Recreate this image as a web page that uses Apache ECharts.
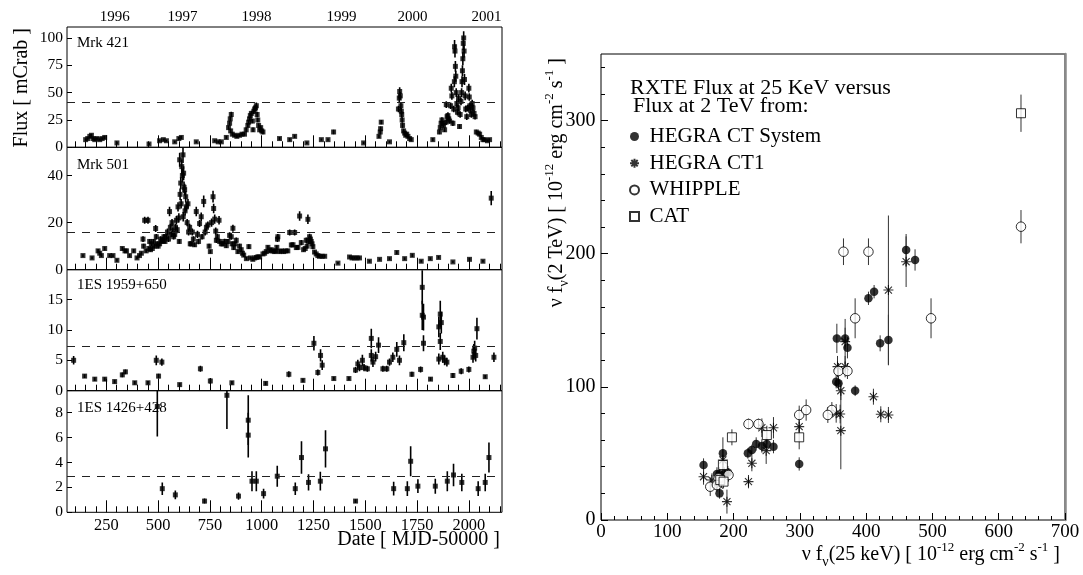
<!DOCTYPE html>
<html><head><meta charset="utf-8">
<script src="https://cdn.jsdelivr.net/npm/echarts@6/dist/echarts.min.js"></script>
<style>html,body{margin:0;padding:0;background:#fff}#c{width:1083px;height:575px}</style>
</head><body><div id="c"></div>
<script>
// ---------------- DATA ----------------
// Light curves: [MJD-50000, flux (mCrab), error]
const mrk421 = [
[150,7,1],[160,8,1],[170,10,1.5],[178,11,1.5],[186,8,1],[194,7,1],[205,8,1],[218,7,1],[230,8,1],[242,9,1.5],
[301,4,1],[456,3,1],[507,6,1],[525,7,1],[540,6,1],[580,5,1],[600,8,1.5],[612,9,1.5],[684,5,1],[773,6,1],[790,5,1],[805,5,1],[829,9,1.5],
[840,18,2],[845,22,2],[848,26,2],[853,30,2.5],[850,15,2],[858,12,1.5],[869,11,1.5],[880,10,1.5],[893,11,1.5],[905,12,1.5],[917,12,1.5],[925,16,2],[933,20,2],[937,23,2],[941,26,2],[945,29,2.5],[950,31,2.5],[955,24,2],[958,16,2],[962,33,2.5],[966,35,2.5],[970,36,2.5],[974,38,3],[978,30,2.5],[981,25,2],[985,20,2],[990,16,2],[995,18,2],[1000,15,2],[1006,14,2],
[1086,8,1.5],[1135,7,1.5],[1159,10,1.5],[1218,4,1],[1288,7,1],[1320,7,1],[1347,14,2],[1492,4,1],
[1566,10,1.5],[1572,14,2],[1574,17,2],[1577,23,2],[1617,5,1],
[1660,35,3],[1664,45,3.5],[1666,51,4],[1669,47,3.5],[1672,38,3],[1674,33,3],[1676,30,3],[1678,25,2.5],[1680,20,2.5],[1685,15,2],[1690,13,2],[1695,11,1.5],[1700,12,2],[1706,10,1.5],[1714,8,1.5],[1722,7,1.5],
[1826,7,1.5],[1858,14,2],[1862,18,2],[1866,22,2],[1870,25,2.5],[1874,22,2],[1878,20,2],[1883,16,2],[1890,23,2.5],[1891,39,3],[1895,28,3],[1899,29,3],[1903,26,2.5],[1907,24,2.5],[1912,38,3],[1915,54,4],[1918,47,3.5],[1923,22,2.5],[1927,35,3],[1930,60,5],[1931,92,6],[1933,88,6],[1935,74,5],[1937,65,5],[1939,50,4],[1942,40,3.5],[1945,32,3],[1948,36,3],[1950,45,3.5],[1955,19,2],[1958,30,3],[1962,42,3.5],[1965,50,4],[1967,60,5],[1969,70,5],[1971,81,6],[1973,95,6],[1975,100,6],[1977,88,6],[1979,62,5],[1982,47,4],[1985,35,3],[1990,28,3],[1995,36,3],[2000,54,4],[2002,46,3.5],[2005,38,3],[2008,34,3],[2012,30,3],[2016,40,3.5],[2020,36,3],[2025,31,3],[2030,28,2.5],
[2036,14,2],[2045,13,2],[2052,12,2],[2060,9,1.5],[2068,7,1.5],[2076,7,1.5],[2090,6,1],[2100,7,1]
];
const mrk501 = [
[137,6,0.6],[181,5,0.6],[210,8,0.8],[218,7,0.7],[226,6,0.6],[242,9,0.8],[266,6,0.6],[282,6,0.6],[301,4,0.6],[327,9,0.8],[340,8,0.8],[347,8,0.7],[362,6,0.7],[382,8,0.8],[398,5,0.6],[410,6,0.7],[419,7,0.7],
[427,13,1.2],[430,10,1],[435,21,1.5],[442,8,0.8],[451,21,1.5],[455,9,0.9],[459,12,1],[463,8.5,0.9],[467,11,1],[472,9,0.9],[478,12,1],[483,10,1],[488,17.5,1.5],[491,14,1.2],[495,11,1],[500,10,1],[507,11,1],[512,13,1.2],[518,12,1],[523,12.5,1.2],[528,14,1.2],[533,12,1],[540,14,1.2],[545,16,1.5],[550,13,1.2],[555,24.7,2],[559,18,1.5],[563,15,1.2],[567,20,1.5],[571,16.4,1.5],[575,14,1.2],[580,15,1.3],[584,18,1.5],[588,21,1.8],[592,17,1.5],[596,26.7,2],[600,22,2],[602,12,1],[604,46.7,3],[606,32,2.5],[609,36.8,2.5],[611,28,2],[614,43.8,3],[617,40,3],[620,48.8,3.5],[621,22.5,2],[623,41,3],[625,35,2.5],[628,34,2.5],[630,25,2],[633,31,2.5],[636,26.7,2],[640,20,1.5],[644,28,2],[647,16,1.5],[652,18,1.5],[655,11,1],[660,11,1],[665,16,1.5],[670,13,1.2],[676,10.6,1],[684,24.7,2],[690,15,1.5],[695,12,1.2],[700,19.6,1.5],[708,22.5,1.8],[712,14,1.2],[720,29,2.5],[727,16,1.5],[733,18,1.5],[740,19,1.5],[746,10,1],[752,7.7,0.8],[758,20,1.8],[765,31,2.5],[768,26,2],[773,21.5,2],[778,16.4,1.5],[781,12.5,1.2],[786,14,1.2],[794,21,1.8],[797,12,1.1],[805,11,1],[813,11,1],[821,12,1.1],[829,10.2,1],[837,12,1],[845,14.6,1.3],[853,14,1.3],[857,11,1],[861,17.6,1.5],[865,9.4,1],[871,11,1],[877,12.5,1.2],[885,7.7,0.9],[893,10,1],[901,8.5,0.9],[907,7,0.8],[913,6.2,0.8],[926,4.7,0.7],[938,9.8,1],[945,5,0.6],[957,4.4,0.6],[966,5,0.6],[974,5.2,0.6],[982,5.5,0.6],[990,5.4,0.6],[1006,6.7,0.7],[1014,7,0.7],[1022,7.7,0.8],[1030,9.5,0.9],[1038,8,0.8],[1046,8.5,0.8],[1054,8,0.8],[1062,7.7,0.8],[1068,8,0.8],[1073,9.5,0.9],[1076,13,1.2],[1078,14,1.2],[1086,7.7,0.8],[1096,8,0.8],[1106,7.7,0.8],[1116,8,0.8],[1126,8,0.8],[1135,15.8,1.3],[1143,10.5,1],[1151,10.6,1],[1159,15.8,1.3],[1167,9.4,1],[1175,9.5,1],[1183,22.8,2],[1191,11.5,1.1],[1202,8.5,0.9],[1210,9,0.9],[1215,12.5,1.2],[1219,10,1],[1223,21.4,2],[1227,12,1.1],[1231,14,1.3],[1235,13,1.2],[1239,12,1.1],[1243,11,1],[1247,9.8,1],[1255,7.5,0.8],[1263,6.7,0.7],[1271,6,0.7],[1279,5.7,0.6],[1292,5.7,0.6],[1304,5.7,0.6],
[1368,2.8,0.5],[1424,5.4,0.6],[1436,5,0.6],[1448,5,0.6],[1460,5,0.6],[1472,5,0.6],[1520,3.6,0.5],[1569,4.4,0.5],[1617,4.7,0.6],[1652,7.3,0.7],[1690,4.7,0.6],[1727,6.1,0.7],[1770,3.6,0.5],[1814,4.7,0.6],[1854,5.2,0.6],[1923,3.3,0.5],[2003,4.4,0.6],[2068,3.6,0.5],[2108,30.4,3]
];
const es1959 = [
[92,5.0,0.7],[145,2.4,0.3],[194,1.9,0.3],[242,1.9,0.3],[290,1.5,0.3],[327,2.6,0.4],[342,3.1,0.4],[387,1.3,0.3],[451,1.3,0.3],[491,5.0,0.8],[502,2.4,0.4],[518,4.7,0.6],[604,1.0,0.3],[704,3.6,0.5],[752,1.6,0.5],[856,1.3,0.3],[1019,1.2,0.3],[1131,2.7,0.5],[1199,1.7,0.3],[1252,7.8,1.2],[1271,3.0,0.5],[1284,5.8,1],[1292,4.2,0.8],[1348,2.0,0.3],[1421,2.0,0.3],[1453,3.4,0.5],[1464,4.4,0.7],[1472,3.8,0.6],[1486,5.0,0.9],[1494,3.8,0.6],[1510,3.6,0.5],[1529,8.6,1.6],[1529,5.8,1],[1537,4.7,0.8],[1550,5.6,0.8],[1564,7.5,1.3],[1585,3.6,0.5],[1604,3.6,0.5],[1617,4.7,0.6],[1633,5.5,0.8],[1652,6.8,1.2],[1665,5.0,0.8],[1686,7.9,1.4],[1725,2.7,0.4],[1767,3.5,0.5],[1775,17.0,2.8],[1775,12.4,2.4],[1781,12.1,2.2],[1781,7.8,1.3],[1815,1.9,0.3],[1855,10.5,1.7],[1862,12.6,2.2],[1862,8.1,1.4],[1855,5.2,0.9],[1867,11.2,1.8],[1874,5.5,0.9],[1883,5.0,0.8],[1894,4.7,0.7],[1923,2.5,0.4],[1963,3.2,0.5],[2000,3.5,0.5],[2020,5.5,0.9],[2024,6.5,1.2],[2028,7.0,1.2],[2033,5.8,1],[2039,10.2,1.8],[2079,2.3,0.3],[2121,5.5,0.8]
];
const es1426 = [
[496,8.5,2.4],[520,1.9,0.5],[583,1.4,0.35],[724,0.9,0.2],[832,9.4,2.7],[888,1.3,0.3],[935,7.4,2.0],[935,6.2,1.8],[953,2.5,0.8],[974,2.5,0.8],[1009,1.5,0.4],[1075,2.9,0.85],[1162,1.9,0.5],[1192,4.4,1.3],[1226,2.4,0.65],[1283,2.5,0.75],[1308,5.1,1.5],[1453,0.9,0.15],[1637,1.9,0.55],[1703,1.9,0.6],[1719,4.1,1.2],[1754,2.1,0.55],[1838,2.1,0.6],[1896,2.5,0.8],[1926,3.0,0.9],[1966,2.4,0.7],[2045,1.9,0.6],[2079,2.4,0.7],[2097,4.4,1.2]
];
const sourceNames = ['Mrk 421','Mrk 501','1ES 1959+650','1ES 1426+428'];
const dashLevels = [41, 15.7, 7.3, 2.9];
const panelMax = [110, 52, 19.9, 9.77];
const panelTicks = [[0,25,50,75,100],[0,20,40],[0,5,10,15],[0,2,4,6,8]];
const dateMajorTicks = [250,500,750,1000,1250,1500,1750,2000];
const dateMinorTicks = [100,150,200,300,350,400,450,550,600,650,700,800,850,900,950,1050,1100,1150,1200,1300,1350,1400,1450,1550,1600,1650,1700,1800,1850,1900,1950,2050,2100,2150];
const yearPos = [290,618,975,1385,1728,2085];
const yearLabels = ['1996','1997','1998','1999','2000','2001'];

// Correlation: [nu f_nu(25 keV), nu f_nu(2 TeV), error]
const hegraSys = [
[460.3,202.8,12],[473.8,195.3,8],[403.5,166.5,5],[412,171.5,5],[355.8,136.4,11],[368.3,136.4,8],[371.8,129.4,8],[421.1,132.7,6],[433.6,135.2,19],[354.8,103.9,5],[358.3,102.7,5],[383.4,97.1,4],[299,42.1,5],[221.6,50.1,4],[227.6,52.6,4],[234.1,57.1,5],[242.7,55.6,5],[250.2,57.1,5],[260.2,55.1,5],[154.7,41.3,5],[183.9,50.1,12],[174.9,34.6,5],[178.8,34.6,5],[185.9,34.6,5],[191.4,35.6,5],[178.8,20.0,4]
];
const hegraCT1 = [
[460.3,194,19],[433.6,172.7,56],[368.3,134,17],[356.8,115.2,8],[368.3,115.2,8],[361.8,97.1,7],[411,92.6,6],[422.1,79.4,6],[433.6,78.9,6],[354.8,80.1,7],[360.8,79.6,7],[361.8,67.1,29],[299,70.1,6],[242.7,69.3,7],[260.2,69.3,8],[249.2,52.1,10],[227.6,42.6,6],[222.5,28.8,5],[154.7,32.5,6],[183.9,45.1,8],[178.8,26.3,5],[190,13.8,9],[167.3,30,5]
];
const whipple = [
[633.6,220.3,12.5],[365.8,201.5,10],[403.5,201.5,10],[383.4,151.5,15],[497.9,151.5,15],[358.3,111.9,6],[371.8,111.9,6],[348.3,82.6,6],[342.2,78.9,6],[299,78.9,7],[309.5,82.6,8],[222.5,72.1,4],[237.6,72.1,4],[164.8,25,7],[192.4,33.8,5],[177.3,31.3,5],[174.9,26.3,5]
];
const cat = [
[633.6,305.5,14],[299,62.1,9],[250.2,63.8,7],[197.5,62.1,6],[183.9,41.3,6],[179.9,30,5],[184.9,28.8,5]
];
const corrXMinor = [20,40,60,80,120,140,160,180,220,240,260,280,320,340,360,380,420,440,460,480,520,540,560,580,620,640,660,680];
const corrYMinor = [20,40,60,80,120,140,160,180,220,240,260,280,320,340];
const corrYTicks = [0,100,200,300];

// ---------------- CHART ----------------
const FONT = "'Liberation Serif','Times New Roman',serif";
const chart = echarts.init(document.getElementById('c'), null, {renderer:'canvas'});
const plain = v => String(v);

const panelRects = [
  {top:27, height:120.3},
  {top:147.3, height:122.4},
  {top:269.7, height:121},
  {top:390.7, height:121.6}
];
const L = {left:67, width:435};

const grid = [];
panelRects.forEach(r => grid.push({left:L.left, width:L.width, top:r.top, height:r.height, show:true, borderColor:'#000', borderWidth:1}));
panelRects.forEach(r => grid.push({left:L.left, width:L.width, top:r.top, height:r.height, show:false}));
grid.push({left:601, width:464, top:54, height:466, show:true, borderColor:'#000', borderWidth:1});
grid.push({left:601, width:464, top:54, height:466, show:false});

const xAxis = [];
for (let i=0;i<4;i++){
  xAxis.push({type:'value', gridIndex:i, min:60, max:2160, position:'bottom',
    axisLine:{show:false}, splitLine:{show:false},
    axisTick:{show:true, inside:true, length:12, customValues:dateMajorTicks, lineStyle:{color:'#000', width:1}},
    axisLabel:{show:i===3, customValues:dateMajorTicks, formatter:plain, margin:5, color:'#000', fontFamily:FONT, fontSize:16.4}
  });
}
xAxis.push({type:'value', gridIndex:0, min:60, max:2160, position:'top',
  axisLine:{show:false}, axisTick:{show:false}, splitLine:{show:false},
  axisLabel:{show:true, customValues:yearPos, margin:2, color:'#000', fontFamily:FONT, fontSize:15,
    formatter: v => yearLabels[yearPos.indexOf(v)]}
});
for (let i=0;i<4;i++){
  xAxis.push({type:'value', gridIndex:4+i, min:60, max:2160, position:'bottom',
    axisLine:{show:false}, splitLine:{show:false}, axisLabel:{show:false},
    axisTick:{show:true, inside:true, length:6, customValues:dateMinorTicks, lineStyle:{color:'#000', width:1}}
  });
}
xAxis.push({type:'value', gridIndex:8, min:0, max:700, interval:100, position:'bottom',
  axisLine:{show:false}, splitLine:{show:false},
  axisTick:{show:true, inside:true, length:7, lineStyle:{color:'#000'}},
  axisLabel:{margin:3, formatter:plain, color:'#000', fontFamily:FONT, fontSize:19}
});
xAxis.push({type:'value', gridIndex:9, min:0, max:700, position:'bottom',
  axisLine:{show:false}, splitLine:{show:false}, axisLabel:{show:false},
  axisTick:{show:true, inside:true, length:4, customValues:corrXMinor, lineStyle:{color:'#000'}}
});

const yAxis = [];
for (let i=0;i<4;i++){
  yAxis.push({type:'value', gridIndex:i, min:0, max:panelMax[i],
    axisLine:{show:false}, splitLine:{show:false},
    axisTick:{show:true, inside:true, length:5, customValues:panelTicks[i], lineStyle:{color:'#000'}},
    axisLabel:{customValues:panelTicks[i], formatter:plain, margin:4, color:'#000', fontFamily:FONT, fontSize:15.5}
  });
}
for (let i=0;i<4;i++){
  yAxis.push({type:'value', gridIndex:4+i, min:0, max:panelMax[i], show:false});
}
yAxis.push({type:'value', gridIndex:8, min:0, max:350, position:'left',
  axisLine:{show:false}, splitLine:{show:false},
  axisTick:{show:true, inside:true, length:7, customValues:corrYTicks, lineStyle:{color:'#000'}},
  axisLabel:{customValues:corrYTicks, formatter:plain, margin:5.5, color:'#000', fontFamily:FONT, fontSize:20}
});
yAxis.push({type:'value', gridIndex:9, min:0, max:350, position:'left',
  axisLine:{show:false}, splitLine:{show:false}, axisLabel:{show:false},
  axisTick:{show:true, inside:true, length:4, customValues:corrYMinor, lineStyle:{color:'#000'}}
});
yAxis.push({type:'value', gridIndex:9, min:0, max:350, position:'right',
  axisLine:{show:true, lineStyle:{color:'#8a8a8a', width:2.5}}, splitLine:{show:false},
  axisTick:{show:false}, axisLabel:{show:false}
});

function errRender(ymax, lw, color){
  return function(params, api){
    const x = api.value(0), y = api.value(1), e = api.value(2);
    const lo = Math.max(0, y - e), hi = Math.min(ymax, y + e);
    const a = api.coord([x, lo]), b = api.coord([x, hi]);
    return {type:'line', shape:{x1:a[0], y1:a[1], x2:b[0], y2:b[1]}, style:{stroke:color, lineWidth:lw}, silent:true};
  };
}

const series = [];
const lcData = [mrk421, mrk501, es1959, es1426];
lcData.forEach((d, i) => {
  series.push({type:'custom', name:'err'+i, xAxisIndex:i, yAxisIndex:i, clip:true,
    renderItem: errRender(panelMax[i], 1.6, '#000'), data:d, z:2, silent:true});
  series.push({type:'scatter', name:sourceNames[i], xAxisIndex:i, yAxisIndex:i, clip:true,
    symbol:'rect', symbolSize:5, itemStyle:{color:'#000'}, z:3, silent:true,
    data: d.map(p => [p[0], p[1]]),
    markLine:{silent:true, symbol:'none', label:{show:false}, animation:false,
      lineStyle:{type:[8,7], color:'#222', width:1}, data:[{yAxis:dashLevels[i]}]}
  });
});

const corr = [
  {name:'HEGRA CT System', data:hegraSys, symbol:'circle', size:8.5, style:{color:'#000'}},
  {name:'HEGRA CT1', data:hegraCT1, symbol:'path://M0,-10L0,10M-10,0L10,0M-7.07,-7.07L7.07,7.07M-7.07,7.07L7.07,-7.07', size:10, style:{color:'rgba(0,0,0,0)', borderColor:'#000', borderWidth:1.1}},
  {name:'WHIPPLE', data:whipple, symbol:'circle', size:9.5, style:{color:'#fff', borderColor:'#000', borderWidth:1}},
  {name:'CAT', data:cat, symbol:'path://M0,0L10,0L10,10L0,10Z', size:9, style:{color:'#fff', borderColor:'#000', borderWidth:1}}
];
corr.forEach((c, i) => {
  series.push({type:'custom', name:'cerr'+i, xAxisIndex:9, yAxisIndex:8, clip:true,
    renderItem: errRender(350, 1, '#333'), data:c.data, z:2, silent:true});
});
corr.forEach((c, i) => {
  series.push({type:'scatter', name:c.name, xAxisIndex:9, yAxisIndex:8, clip:true,
    symbol:c.symbol, symbolSize:c.size, symbolKeepAspect:true, itemStyle:c.style, z:3, silent:true,
    data: c.data.map(p => [p[0], p[1]])});
});

const rich = {
  a:{fontSize:20, fontFamily:FONT, color:'#000', lineHeight:28},
  s:{fontSize:14, fontFamily:FONT, color:'#000', lineHeight:14, verticalAlign:'bottom'},
  p:{fontSize:13, fontFamily:FONT, color:'#000', lineHeight:14, verticalAlign:'top'}
};

const graphic = [
  {type:'text', x:21.5, y:28, rotation:Math.PI/2, silent:true,
    style:{text:'Flux [ mCrab ]', font:'20px '+FONT, fill:'#000', align:'right', verticalAlign:'middle'}},
  {type:'text', x:500, y:540, silent:true,
    style:{text:'Date [ MJD-50000 ]', font:'20px '+FONT, fill:'#000', align:'right', verticalAlign:'middle'}},
  {type:'text', x:77, y:43, silent:true, style:{text:sourceNames[0], font:'15px '+FONT, fill:'#000', verticalAlign:'middle'}},
  {type:'text', x:77, y:165, silent:true, style:{text:sourceNames[1], font:'15px '+FONT, fill:'#000', verticalAlign:'middle'}},
  {type:'text', x:77, y:285, silent:true, style:{text:sourceNames[2], font:'15px '+FONT, fill:'#000', verticalAlign:'middle'}},
  {type:'text', x:77, y:408, silent:true, style:{text:sourceNames[3], font:'15px '+FONT, fill:'#000', verticalAlign:'middle'}},
  {type:'text', x:630, y:88, silent:true, style:{text:'RXTE Flux at 25 KeV versus', font:'22px '+FONT, fill:'#000', verticalAlign:'middle'}},
  {type:'text', x:633, y:106.5, silent:true, style:{text:'Flux at 2 TeV from:', font:'22px '+FONT, fill:'#000', verticalAlign:'middle'}},
  {type:'text', x:1060, y:555, silent:true,
    style:{text:'{a|ν f}{s|ν}{a|(25 keV) [ 10}{p|-12}{a| erg cm}{p|-2}{a| s}{p|-1}{a| ]}', rich:rich, align:'right', verticalAlign:'middle'}},
  {type:'text', x:557, y:58, rotation:Math.PI/2, silent:true,
    style:{text:'{a|ν f}{s|ν}{a|(2 TeV) [ 10}{p|-12}{a| erg cm}{p|-2}{a| s}{p|-1}{a| ]}', rich:rich, align:'right', verticalAlign:'middle'}}
];

chart.setOption({
  animation:false,
  backgroundColor:'#fff',
  textStyle:{fontFamily:FONT},
  grid, xAxis, yAxis, series, graphic,
  legend:{show:true, orient:'vertical', left:624, top:121, itemWidth:20, itemHeight:9, itemGap:5.7,
    data:['HEGRA CT System','HEGRA CT1','WHIPPLE','CAT'],
    textStyle:{fontSize:21, fontFamily:FONT, color:'#000'}, selectedMode:false}
});
</script></body></html>
